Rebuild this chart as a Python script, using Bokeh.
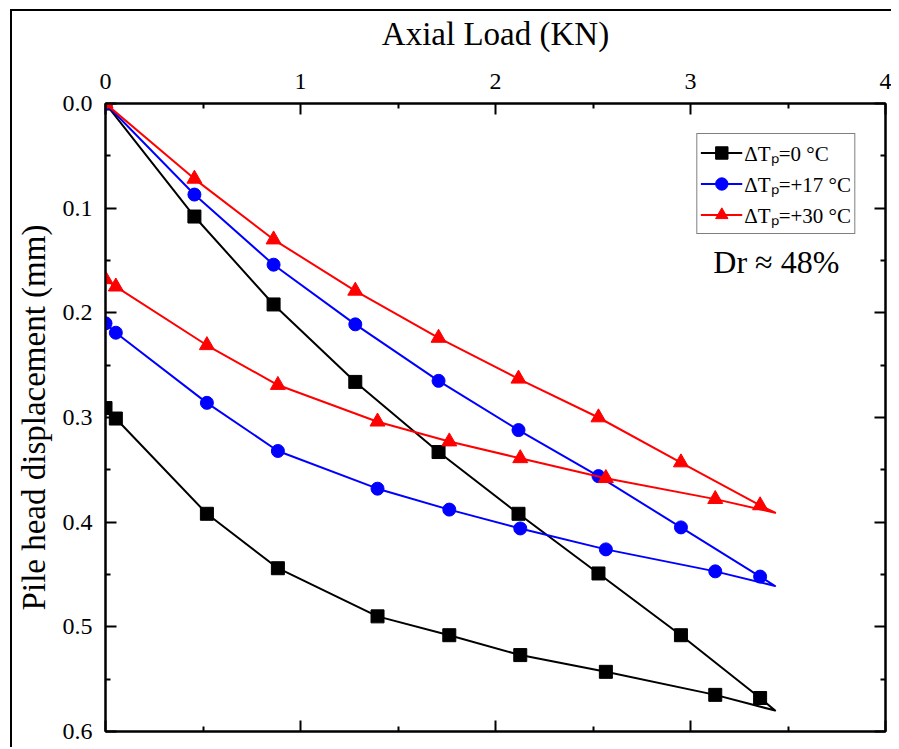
from bokeh.plotting import figure
from bokeh.models import (Range1d, LinearAxis, FixedTicker, PrintfTickFormatter,
                          CustomJSTickFormatter, Legend, LegendItem, Label)
from bokeh.embed import file_html
from bokeh.resources import INLINE

FONT = "Liberation Serif"

# ---- data (Axial load in kN, pile head displacement in mm) ----
loading_load = [0.0, 0.456, 0.862, 1.281, 1.708, 2.118, 2.528, 2.951, 3.357]
peak_load = 3.434
unloading_load = [3.127, 2.566, 2.127, 1.763, 1.395, 0.884, 0.520, 0.053, 0.0]

disp_0_loading = [0.0, 0.108, 0.192, 0.266, 0.333, 0.392, 0.449, 0.508, 0.568]
disp_0_peak = 0.580
disp_0_unloading = [0.565, 0.543, 0.527, 0.508, 0.490, 0.444, 0.392, 0.301, 0.291]

disp_17_loading = [0.0, 0.087, 0.154, 0.211, 0.265, 0.312, 0.356, 0.405, 0.452]
disp_17_peak = 0.461
disp_17_unloading = [0.447, 0.426, 0.406, 0.388, 0.368, 0.332, 0.286, 0.219, 0.210]

disp_30_loading = [0.0, 0.072, 0.130, 0.179, 0.224, 0.263, 0.300, 0.343, 0.384]
disp_30_peak = 0.391
disp_30_unloading = [0.378, 0.358, 0.339, 0.323, 0.304, 0.269, 0.231, 0.175, 0.168]

series_labels = ["\u0394T\u209a=0 \u00b0C", "\u0394T\u209a=+17 \u00b0C", "\u0394T\u209a=+30 \u00b0C"]
series_colors = ["#000000", "#0000ff", "#ff0000"]
series_markers = ["square", "circle", "triangle"]
marker_sizes = [13, 13, 15]

x_ticks = [0, 1, 2, 3, 4]
x_minor = [0.5, 1.5, 2.5, 3.5]
y_ticks = [0.0, 0.1, 0.2, 0.3, 0.4, 0.5, 0.6]
y_minor = [0.05, 0.15, 0.25, 0.35, 0.45, 0.55]

series = [
    (disp_0_loading, disp_0_peak, disp_0_unloading),
    (disp_17_loading, disp_17_peak, disp_17_unloading),
    (disp_30_loading, disp_30_peak, disp_30_unloading),
]

p = figure(width=881, height=738,
           x_range=Range1d(x_ticks[0], x_ticks[-1]),
           y_range=Range1d(y_ticks[-1], y_ticks[0]),
           x_axis_location="above",
           output_backend="svg", toolbar_location=None,
           min_border_left=93, min_border_top=92,
           min_border_right=8, min_border_bottom=18)
p.styles = {"border-left": "2px solid black", "border-top": "2px solid black",
            "margin-left": "10px", "margin-top": "9px"}
p.xgrid.visible = False
p.ygrid.visible = False
p.outline_line_color = "black"
p.outline_line_width = 2
p.background_fill_color = "white"
p.border_fill_color = "white"

bottom = LinearAxis()
right = LinearAxis()
p.add_layout(bottom, "below")
p.add_layout(right, "right")

top = p.above[0]
left = p.left[0]

for ax, tk in [(top, FixedTicker(ticks=x_ticks, minor_ticks=x_minor)),
               (bottom, FixedTicker(ticks=x_ticks, minor_ticks=x_minor)),
               (left, FixedTicker(ticks=y_ticks, minor_ticks=y_minor)),
               (right, FixedTicker(ticks=y_ticks, minor_ticks=y_minor))]:
    ax.ticker = tk
    ax.axis_line_width = 2
    ax.axis_line_color = "black"
    ax.major_tick_in = 11
    ax.major_tick_out = 0
    ax.minor_tick_in = 5
    ax.minor_tick_out = 0
    ax.major_tick_line_width = 2
    ax.minor_tick_line_width = 2
    ax.major_label_text_font = FONT
    ax.major_label_text_font_size = "24px"
    ax.major_label_text_color = "black"
    ax.axis_label_text_font = FONT
    ax.axis_label_text_font_style = "normal"
    ax.axis_label_text_font_size = "33px"
    ax.axis_label_text_color = "black"

for ax in (bottom, right):
    ax.formatter = CustomJSTickFormatter(code="return ''")
    ax.major_label_standoff = 0

left.formatter = PrintfTickFormatter(format="%.1f")
top.axis_label = "Axial Load (KN)"
left.axis_label = "Pile head displacement (mm)"
top.major_label_standoff = 15
left.major_label_standoff = 13
top.axis_label_standoff = 19
left.axis_label_standoff = 8

items = []
for (ld, pk, ud), lab, col, mk, ms in zip(series, series_labels, series_colors,
                                          series_markers, marker_sizes):
    lx = loading_load + [peak_load] + unloading_load
    ly = ld + [pk] + ud
    lr = p.line(lx, ly, line_color=col, line_width=2, line_join="round")
    sr = p.scatter(loading_load + unloading_load, ld + ud, marker=mk, size=ms,
                   fill_color=col, line_color=col)
    items.append(LegendItem(label=lab, renderers=[lr, sr]))

legend = Legend(items=items, location="top_right", margin=30,
                border_line_color="black", border_line_width=1,
                background_fill_color="white", background_fill_alpha=1,
                padding=3, spacing=0, glyph_width=42, glyph_height=31,
                label_standoff=2, label_text_font=FONT,
                label_text_font_size="21px", label_text_color="black")
p.add_layout(legend)

p.add_layout(Label(x=3.44, y=0.151, text="Dr \u2248 48%", text_align="center",
                   text_baseline="alphabetic", text_font=FONT,
                   text_font_size="32px", text_color="black"))

open("out.html", "w").write(file_html(p, INLINE))
